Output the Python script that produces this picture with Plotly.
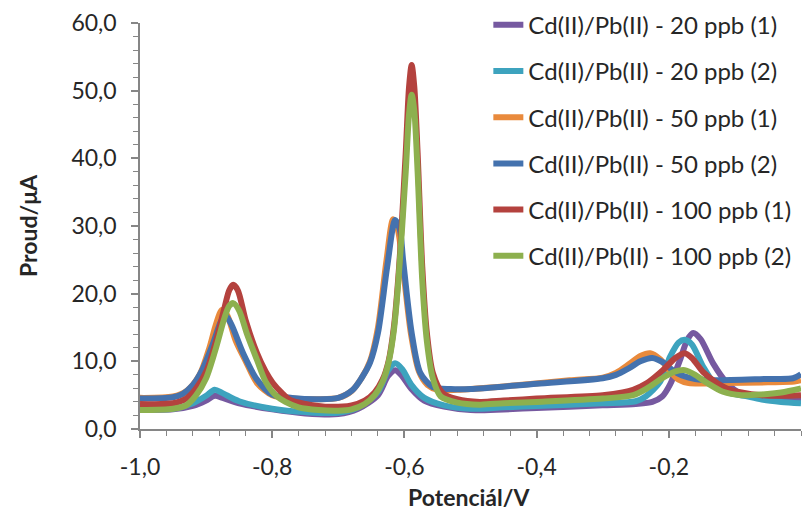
import plotly.graph_objects as go

# ---- data ----
x_20_1 = [-1.0, -0.95, -0.92, -0.90, -0.887, -0.875, -0.85, -0.80, -0.75, -0.70, -0.67, -0.64, -0.625, -0.614,
          -0.605, -0.59, -0.57, -0.54, -0.50, -0.45, -0.40, -0.30, -0.25, -0.225, -0.21, -0.198, -0.183, -0.172,
          -0.163, -0.152, -0.133, -0.112, -0.092, -0.06, -0.03, 0.0]
y_20_1 = [2.9, 2.9, 3.4, 4.2, 4.9, 4.6, 3.8, 2.9, 2.3, 2.2, 3.0, 5.0, 7.8, 8.7,
          8.0, 6.0, 4.2, 3.3, 2.8, 2.9, 3.1, 3.5, 3.7, 4.0, 4.8, 6.6, 10.2, 13.2,
          14.2, 13.3, 9.7, 6.8, 5.3, 4.7, 4.4, 4.3]

x_20_2 = [-1.0, -0.95, -0.92, -0.90, -0.887, -0.875, -0.85, -0.80, -0.75, -0.70, -0.67, -0.64, -0.625, -0.614,
          -0.603, -0.59, -0.57, -0.54, -0.50, -0.45, -0.40, -0.30, -0.25, -0.235, -0.213, -0.198, -0.185, -0.176,
          -0.165, -0.148, -0.127, -0.107, -0.08, -0.057, -0.03, 0.0]
y_20_2 = [3.0, 3.0, 3.8, 4.9, 5.8, 5.3, 4.1, 3.0, 2.5, 2.4, 3.2, 5.5, 8.6, 9.7,
          8.8, 6.6, 4.6, 3.5, 3.0, 3.2, 3.4, 3.8, 4.1, 4.8, 7.0, 10.7, 12.8, 13.2,
          12.5, 9.2, 6.2, 5.3, 4.8, 4.3, 4.0, 3.8]

x_50_1 = [-1.0, -0.95, -0.93, -0.91, -0.895, -0.885, -0.876, -0.868, -0.855, -0.84, -0.823, -0.80, -0.77, -0.73,
          -0.70, -0.68, -0.665, -0.652, -0.64, -0.627, -0.617, -0.61, -0.60, -0.59, -0.578, -0.565, -0.55, -0.52,
          -0.45, -0.35, -0.30, -0.28, -0.26, -0.243, -0.228, -0.213, -0.198, -0.185, -0.17, -0.12, -0.05, -0.01, 0.0]
y_50_1 = [4.6, 4.8, 5.6, 8.0, 12.0, 15.5, 17.6, 16.8, 13.0, 10.0, 6.8, 5.0, 4.5, 4.4,
          4.6, 5.6, 7.5, 10.0, 15.0, 25.0, 31.0, 29.5, 22.0, 14.0, 8.5, 6.5, 5.8, 5.8,
          6.3, 7.2, 7.6, 8.3, 9.6, 10.8, 11.2, 10.3, 8.5, 7.3, 6.8, 6.8, 6.9, 7.0, 7.2]

x_50_2 = [-1.0, -0.95, -0.935, -0.92, -0.906, -0.89, -0.878, -0.871, -0.862, -0.844, -0.823, -0.80, -0.77, -0.73,
          -0.70, -0.678, -0.665, -0.652, -0.64, -0.626, -0.614, -0.607, -0.602, -0.589, -0.576, -0.557, -0.53, -0.50,
          -0.40, -0.30, -0.28, -0.26, -0.243, -0.225, -0.208, -0.193, -0.18, -0.16, -0.133, -0.05, -0.012, 0.0]
y_50_2 = [4.5, 4.7, 5.2, 6.5, 8.7, 12.5, 15.8, 16.8, 15.5, 11.2, 7.3, 5.1, 4.6, 4.4,
          4.6, 5.8, 7.5, 9.8, 14.2, 24.0, 30.9, 29.5, 25.0, 14.2, 8.3, 6.2, 5.9, 5.9,
          6.7, 7.5, 8.0, 9.0, 10.0, 10.5, 9.8, 8.6, 7.9, 7.4, 7.2, 7.4, 7.5, 8.1]

x_100_1 = [-1.0, -0.95, -0.93, -0.915, -0.899, -0.885, -0.872, -0.865, -0.859, -0.852, -0.84, -0.823, -0.81,
           -0.799, -0.785, -0.773, -0.75, -0.72, -0.68, -0.66, -0.645, -0.633, -0.624, -0.616, -0.608, -0.598,
           -0.593, -0.589, -0.585, -0.58, -0.573, -0.566, -0.557, -0.542, -0.52, -0.486, -0.45, -0.40, -0.30,
           -0.27, -0.254, -0.233, -0.209, -0.19, -0.176, -0.165, -0.148, -0.127, -0.107, -0.06, -0.03, 0.0]
y_100_1 = [3.7, 3.8, 4.5, 6.0, 8.7, 13.0, 18.0, 20.5, 21.3, 20.5, 16.0, 11.2, 8.5,
           6.8, 5.3, 4.3, 3.7, 3.3, 3.5, 4.2, 5.4, 7.3, 10.0, 15.0, 24.0, 40.8,
           50.5, 53.8, 50.5, 40.8, 24.0, 14.2, 8.3, 5.3, 4.4, 4.0, 4.2, 4.5, 5.0,
           5.4, 5.8, 6.8, 8.7, 10.5, 11.2, 10.5, 8.4, 6.8, 5.8, 5.0, 4.9, 5.0]

x_100_2 = [-1.0, -0.95, -0.93, -0.915, -0.90, -0.885, -0.872, -0.865, -0.859, -0.85, -0.838, -0.823, -0.81,
           -0.795, -0.78, -0.76, -0.73, -0.70, -0.68, -0.66, -0.645, -0.633, -0.624, -0.616, -0.609, -0.598,
           -0.593, -0.589, -0.585, -0.58, -0.573, -0.566, -0.557, -0.545, -0.52, -0.486, -0.45, -0.40, -0.30,
           -0.254, -0.233, -0.21, -0.19, -0.176, -0.16, -0.142, -0.118, -0.09, -0.06, -0.03, 0.0]
y_100_2 = [2.8, 3.0, 3.5, 5.0, 7.5, 12.0, 16.5, 18.2, 18.6, 17.5, 14.0, 10.2, 7.0,
           5.0, 4.0, 3.2, 2.8, 2.7, 2.9, 3.7, 5.0, 7.0, 9.8, 14.5, 22.0, 38.0,
           46.5, 49.4, 47.0, 38.0, 22.0, 13.0, 7.5, 4.8, 3.9, 3.6, 3.8, 4.0, 4.5,
           5.0, 6.0, 7.5, 8.5, 8.7, 8.0, 6.8, 5.5, 5.0, 5.1, 5.4, 6.0]

series_names = ["Cd(II)/Pb(II) - 20 ppb (1)", "Cd(II)/Pb(II) - 20 ppb (2)",
                "Cd(II)/Pb(II) - 50 ppb (1)", "Cd(II)/Pb(II) - 50 ppb (2)",
                "Cd(II)/Pb(II) - 100 ppb (1)", "Cd(II)/Pb(II) - 100 ppb (2)"]
series_x = [x_20_1, x_20_2, x_50_1, x_50_2, x_100_1, x_100_2]
series_y = [y_20_1, y_20_2, y_50_1, y_50_2, y_100_1, y_100_2]
colors = ["#7659A0", "#3DA3BE", "#E98A3C", "#4472AE", "#B4423E", "#8DB04E"]

x_ticks = [-1.0, -0.8, -0.6, -0.4, -0.2]
x_tick_labels = ["-1,0", "-0,8", "-0,6", "-0,4", "-0,2"]
y_ticks = [0, 10, 20, 30, 40, 50, 60]
y_tick_labels = ["0,0", "10,0", "20,0", "30,0", "40,0", "50,0", "60,0"]
x_title = "Potenciál/V"
y_title = "Proud/μA"

FONT = "Lato"
fig = go.Figure()
for i, (nm, xs, ys, c) in enumerate(zip(series_names, series_x, series_y, colors)):
    fig.add_trace(go.Scatter(x=xs, y=ys, name=nm, mode="lines",
                             line=dict(color=c, width=6, shape="spline", smoothing=0.8),
                             legendgroup=f"g{i}"))

axis_col = "#868686"
txt_col = "#262626"
fig.update_layout(
    width=802, height=512,
    margin=dict(l=140, r=1, t=23, b=83),
    paper_bgcolor="white", plot_bgcolor="white",
    font=dict(family=FONT, size=23, color=txt_col),
    showlegend=True,
    legend=dict(x=0.527, y=1.05, xanchor="left", yanchor="top", maxheight=480,
                bgcolor="rgba(0,0,0,0)", font=dict(family=FONT, size=24, color=txt_col),
                tracegroupgap=12, traceorder="grouped"),
    xaxis=dict(range=[-1.0, 0.0], tickvals=x_ticks, ticktext=x_tick_labels,
               showgrid=False, zeroline=False, showline=True, linecolor=axis_col, linewidth=1.5,
               ticks="outside", ticklen=7, tickcolor=axis_col, tickwidth=1.5, ticklabelstandoff=10,
               minor=dict(dtick=0.04, ticks="outside", ticklen=5, tickcolor=axis_col, tickwidth=1.2)),
    yaxis=dict(range=[0, 60], tickvals=y_ticks, ticktext=y_tick_labels,
               showgrid=False, zeroline=False, showline=True, linecolor=axis_col, linewidth=1.5,
               ticks="outside", ticklen=7, tickcolor=axis_col, tickwidth=1.5, ticklabelstandoff=10,
               minor=dict(dtick=2, ticks="outside", ticklen=5, tickcolor=axis_col, tickwidth=1.2)),
    annotations=[
        dict(text=f"<b>{x_title}</b>", xref="paper", yref="paper", x=0.499, y=-0.1675,
             xanchor="center", yanchor="middle", showarrow=False,
             font=dict(family=FONT, size=23, color=txt_col)),
        dict(text=f"<b>{y_title}</b>", xref="paper", yref="paper", x=-0.1694, y=0.5,
             xanchor="center", yanchor="middle", showarrow=False, textangle=-90,
             font=dict(family=FONT, size=23, color=txt_col)),
    ],
)
fig.write_html("out.html")
